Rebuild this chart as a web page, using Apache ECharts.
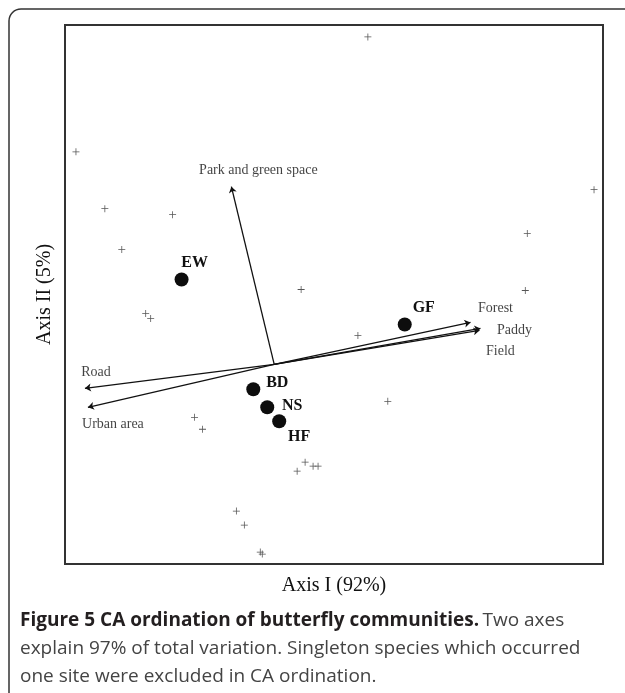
<!DOCTYPE html>
<html>
<head>
<meta charset="utf-8">
<script src="https://cdn.jsdelivr.net/npm/echarts@6/dist/echarts.min.js"></script>
<style>
html,body{margin:0;padding:0;background:#fff;}
#chart{width:625px;height:693px;}
</style>
</head>
<body>
<div id="chart"></div>
<script>
// ---- DATA ----
// species scores (crosses)
const speciesX = [0.94,-1.99,-1.70,-1.02,3.21,-1.53,2.54,0.27,2.52,-1.29,-1.24,0.84,1.14,-0.80,-0.72,0.23,0.31,0.39,0.44,-0.38,-0.30,-0.14,-0.12];
const speciesY = [3.28,2.13,1.56,1.50,1.75,1.15,1.31,0.75,0.74,0.51,0.46,0.29,-0.37,-0.53,-0.65,-1.07,-0.98,-1.02,-1.02,-1.47,-1.61,-1.88,-1.90];
// site scores
const siteNames = ['EW','GF','BD','NS','HF'];
const siteX = [-0.93,1.31,-0.21,-0.07,0.05];
const siteY = [0.85,0.40,-0.25,-0.43,-0.57];
// environmental vectors
const envNames = ['Park and green space','Forest','Paddy','Field','Road','Urban area'];
const envX = [-0.43,1.97,2.07,2.06,-1.90,-1.87];
const envY = [1.78,0.42,0.36,0.34,-0.24,-0.43];
const axisNames = ['Axis I (92%)','Axis II (5%)'];
const captionBold = 'Figure 5 CA ordination of butterfly communities.';
const captionLines = ['Two axes','explain 97% of total variation. Singleton species which occurred','one site were excluded in CA ordination.'];

// ---- STYLE (label offsets in px) ----
const siteLabelOffset = {EW:[13,-17],GF:[19,-17],BD:[24,-6],NS:[25,-1],HF:[20,16]};
const envLabelOffset = {'Park and green space':[27,-16],'Forest':[25,-14],'Paddy':[34,2],'Field':[21,21],'Road':[11,-16],'Urban area':[25,17]};

const serif = '"Liberation Serif","Times New Roman",serif';
const sans = '"Open Sans",sans-serif';
const capSize = 19;
const chart = echarts.init(document.getElementById('chart'));

const speciesData = speciesX.map((x,i)=>[x,speciesY[i]]);
const siteData = siteNames.map((n,i)=>({value:[siteX[i],siteY[i]],name:n,
  label:{offset:siteLabelOffset[n]}}));
const envLines = envNames.map((n,i)=>({coords:[[0,0],[envX[i],envY[i]]]}));
const envLabelData = envNames.map((n,i)=>({value:[envX[i],envY[i]],name:n,
  label:{offset:envLabelOffset[n]}}));

chart.setOption({
  animation:false,
  backgroundColor:'#fff',
  grid:{left:65,top:25,right:22,bottom:129,show:true,borderColor:'#333',borderWidth:2,backgroundColor:'transparent'},
  xAxis:{type:'value',min:-2.1,max:3.3,splitLine:{show:false},axisLine:{show:false},axisTick:{show:false},axisLabel:{show:false},
    name:axisNames[0],nameLocation:'middle',nameGap:12,nameTextStyle:{fontFamily:serif,fontSize:20,color:'#111'}},
  yAxis:{type:'value',min:-2.0,max:3.4,splitLine:{show:false},axisLine:{show:false},axisTick:{show:false},axisLabel:{show:false},
    name:axisNames[1],nameLocation:'middle',nameGap:10,nameTextStyle:{fontFamily:serif,fontSize:20,color:'#111'}},
  series:[
    {type:'lines',coordinateSystem:'cartesian2d',data:envLines,symbol:['none','arrow'],symbolSize:[0,6],
     lineStyle:{color:'#111',width:1.3,opacity:1},z:3},
    {type:'scatter',data:envLabelData,symbolSize:0,z:4,
     label:{show:true,position:'inside',formatter:p=>p.name,fontFamily:serif,fontSize:14,color:'#111',align:'center',verticalAlign:'middle'}},
    {type:'scatter',data:speciesData,symbol:'path://M4,0h1v4h4v1h-4v4h-1v-4h-4v-1h4z',symbolSize:7,
     itemStyle:{color:'#555',opacity:1},z:2},
    {type:'scatter',data:siteData,symbol:'circle',symbolSize:14,itemStyle:{color:'#0d0d0d',opacity:1},z:5,
     label:{show:true,position:'inside',formatter:p=>p.name,fontFamily:serif,fontWeight:'bold',fontSize:16,color:'#111',align:'center',verticalAlign:'middle'}}
  ],
  graphic:[
    {type:'rect',shape:{x:9,y:9,width:700,height:800,r:12},style:{fill:'none',stroke:'#333',lineWidth:1.5},silent:true,z:-1},
    {type:'text',left:20,top:611,style:{text:'{b|'+captionBold+'} {r|'+captionLines[0]+'}',
      rich:{b:{fontFamily:sans,fontWeight:'bold',fontSize:capSize,fill:'#231f20'},
            r:{fontFamily:sans,fontSize:capSize,fill:'#444'}}}},
    {type:'text',left:20,top:639,style:{text:captionLines[1],fontFamily:sans,fontSize:capSize,fill:'#444'}},
    {type:'text',left:20,top:667,style:{text:captionLines[2],fontFamily:sans,fontSize:capSize,fill:'#444'}}
  ]
});
</script>
</body>
</html>
